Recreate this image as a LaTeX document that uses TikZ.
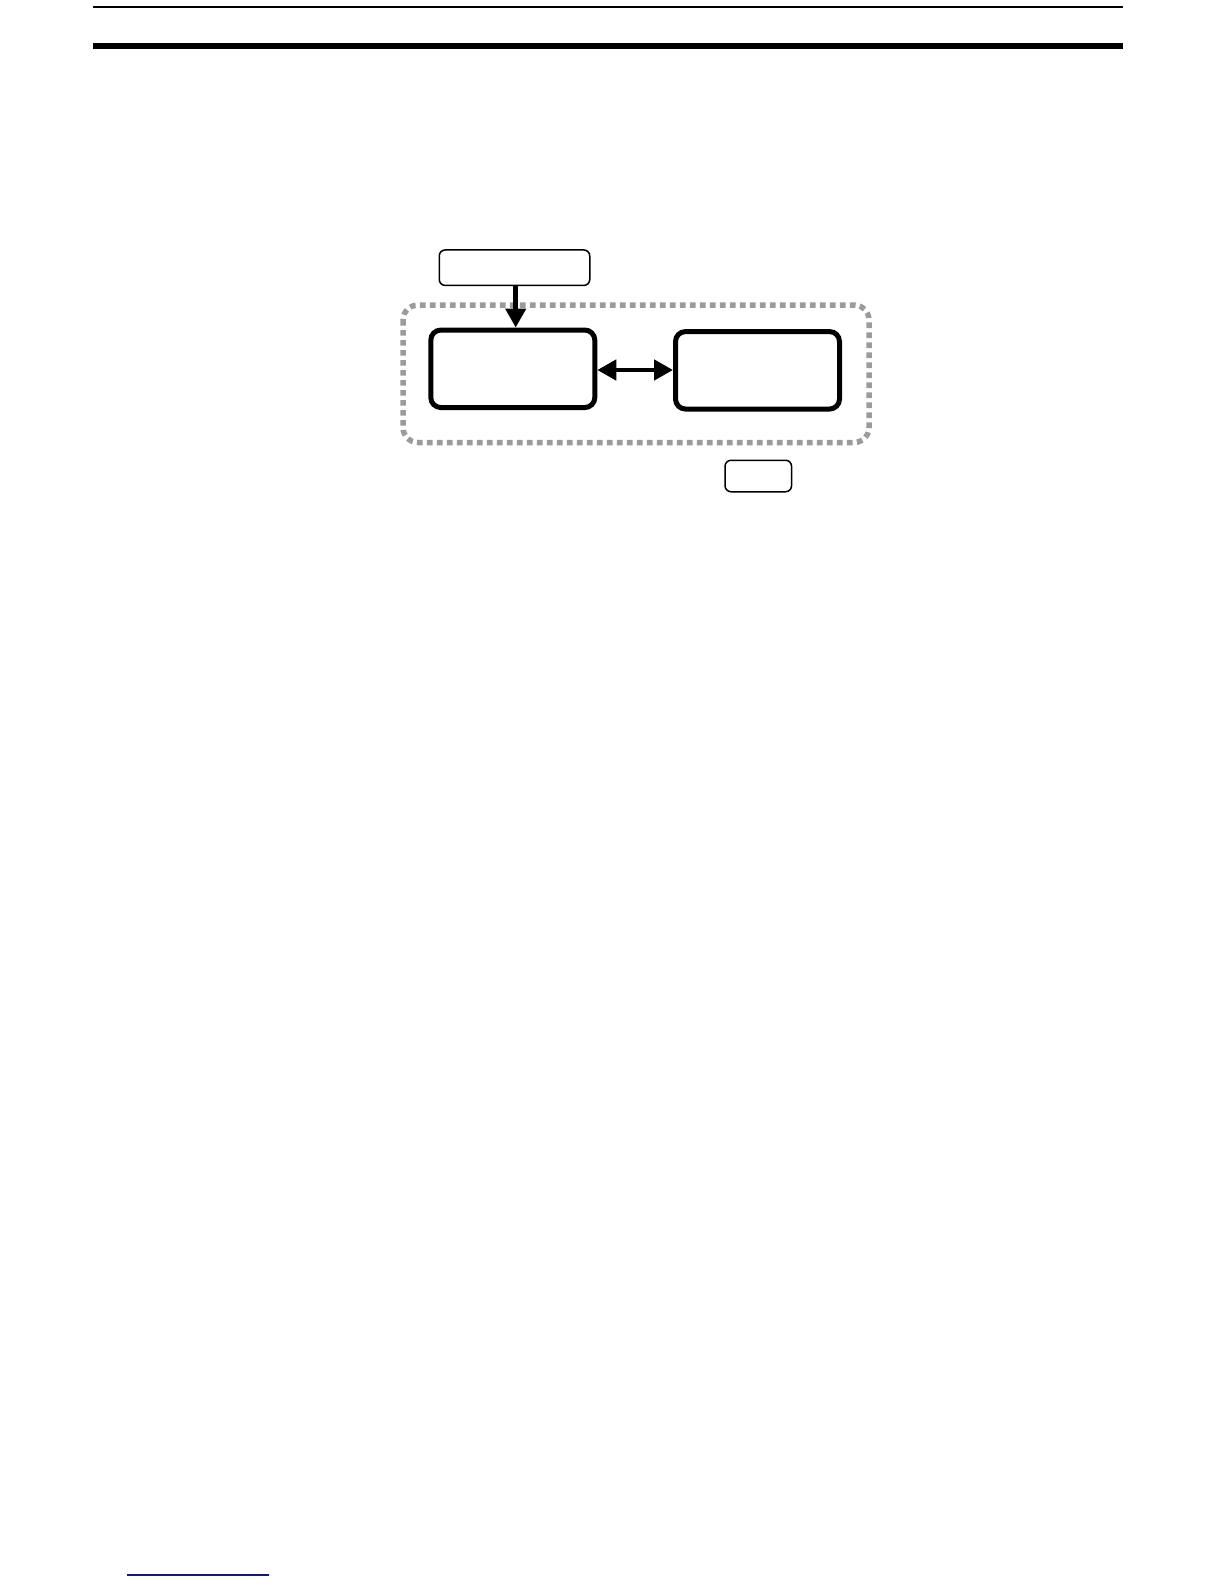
\documentclass[tikz,border=0pt]{standalone}
\usepackage{tikz}
\usetikzlibrary{arrows.meta,positioning}
\definecolor{dotgray}{RGB}{155,155,155}
\definecolor{linkblue}{RGB}{20,20,130}

\begin{document}
\begin{tikzpicture}[x=1bp,y=-1bp,>={Triangle[length=19bp,width=20bp]},
		thin box/.style={draw,rounded corners=6bp,line width=1.5bp,inner sep=0pt},
		thick box/.style={draw,rounded corners=10bp,line width=5bp,inner sep=0pt,
			minimum width=164bp,minimum height=77.5bp},
		group box/.style={draw=dotgray,rounded corners=15bp,line width=5.5bp,
			dash pattern=on 5.7bp off 4.3bp}]
		\useasboundingbox (0,0) rectangle (1224,1584);

		% page rules
		\draw[line width=1.8bp] (93,6.8) -- (1123,6.8);
		\draw[line width=6.3bp] (93,45.8) -- (1123,45.8);
		\draw[linkblue,line width=1.2bp] (127,1575) -- (269,1575);

		% group
		\draw[group box] (403,305) rectangle (869,442.5);

		\node[thin box,minimum width=150.5bp,minimum height=35.5bp] (input) at (514.5,267.7) {};
		\node[thick box] (left) at (512.8,368.8) {};
		\node[thick box] (right) at (757.5,370.3) {};
		\node[thin box,minimum width=66.5bp,minimum height=31.5bp] (tag) at (758.3,476) {};

		\path[line width=4.5bp]
		(input.south -| 515.7,0) edge[->] (left.north -| 515.7,0)
		(left.east |- 0,370) edge[<->] (right.west |- 0,370);

		\end{tikzpicture}
\end{document}
